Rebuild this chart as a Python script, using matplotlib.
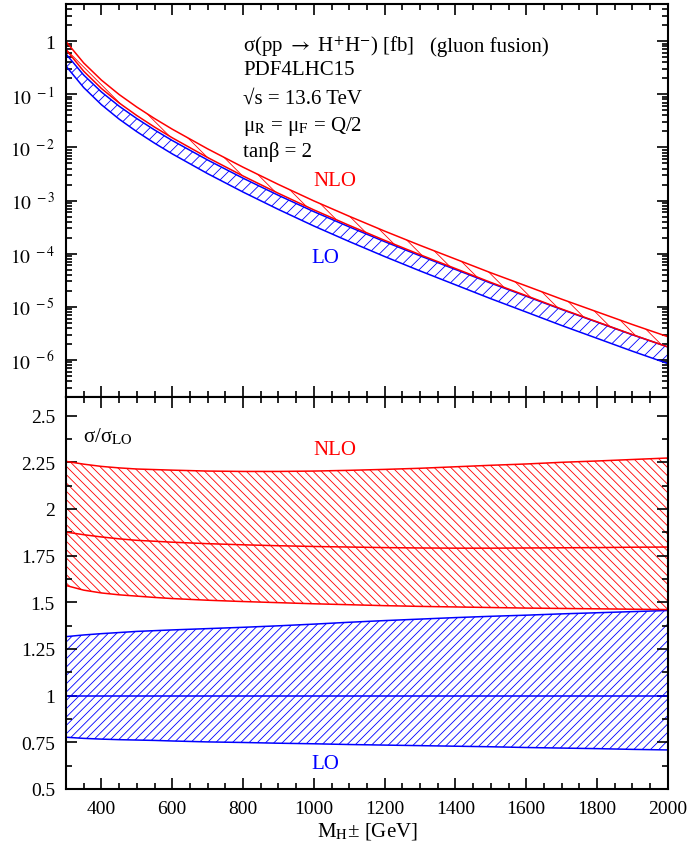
import matplotlib
matplotlib.use('Agg')
import matplotlib.pyplot as plt
import matplotlib.ticker as mticker
import numpy as np

plt.rcParams['font.family'] = ['Liberation Serif', 'DejaVu Serif']
plt.rcParams['mathtext.fontset'] = 'stix'
plt.rcParams['hatch.linewidth'] = 0.6

# charged Higgs mass [GeV]
mass = [300, 350, 400, 450, 500, 550, 600, 700, 800, 900, 1000,
        1100, 1200, 1300, 1400, 1500, 1600, 1700, 1800, 1900, 2000]

# LO central cross section [fb]
sigma_lo = [0.437, 0.174, 0.0832, 0.0447, 0.0260, 0.01585, 0.0100, 0.00427, 0.00193, 9.12e-4, 4.47e-4,
            2.29e-4, 1.20e-4, 6.46e-5, 3.55e-5, 1.95e-5, 1.10e-5, 6.17e-6, 3.55e-6, 2.04e-6, 1.20e-6]

# ratios sigma / sigma_LO
lo_low = [0.777, 0.771, 0.767, 0.764, 0.762, 0.760, 0.757, 0.752, 0.749, 0.745, 0.742,
          0.738, 0.735, 0.732, 0.729, 0.726, 0.722, 0.719, 0.716, 0.712, 0.709]
lo_high = [1.316, 1.325, 1.332, 1.338, 1.344, 1.348, 1.352, 1.359, 1.366, 1.374, 1.383,
           1.393, 1.402, 1.410, 1.418, 1.425, 1.431, 1.438, 1.444, 1.450, 1.456]
nlo_low = [1.590, 1.565, 1.550, 1.540, 1.533, 1.526, 1.520, 1.511, 1.504, 1.498, 1.492,
           1.487, 1.482, 1.478, 1.475, 1.472, 1.469, 1.467, 1.465, 1.463, 1.461]
nlo_mid = [1.876, 1.862, 1.850, 1.840, 1.832, 1.827, 1.822, 1.814, 1.808, 1.803, 1.799,
           1.796, 1.793, 1.791, 1.790, 1.790, 1.791, 1.792, 1.793, 1.795, 1.796]
nlo_high = [2.255, 2.240, 2.228, 2.220, 2.214, 2.211, 2.208, 2.203, 2.201, 2.201, 2.203,
            2.207, 2.212, 2.218, 2.226, 2.234, 2.241, 2.250, 2.257, 2.265, 2.273]

RED = '#ff0000'
BLUE = '#0000ff'

m = np.array(mass)
s = np.array(sigma_lo)

fig = plt.figure(figsize=(6.95, 8.54), dpi=100)
ax1 = fig.add_axes([0.095, 0.534, 0.866, 0.460])
ax2 = fig.add_axes([0.095, 0.075, 0.866, 0.459])


def band(ax, lo, hi, color, hatch):
    ax.fill_between(m, lo, hi, facecolor='none', edgecolor=color, hatch=hatch, linewidth=0)
    ax.plot(m, lo, color=color, lw=1.1)
    ax.plot(m, hi, color=color, lw=1.1)


# top: cross sections
band(ax1, s * np.array(lo_low), s * np.array(lo_high), BLUE, '///')
band(ax1, s * np.array(nlo_low), s * np.array(nlo_high), RED, '\\\\')
ax1.set_yscale('log')
ax1.set_ylim(2e-7, 5)


def logfmt(v, pos):
    e = int(round(np.log10(v)))
    if e == 0:
        return '1'
    return r'$10^{\ %d}$' % e


ax1.yaxis.set_major_locator(mticker.FixedLocator([10.0 ** k for k in range(-6, 1)]))
ax1.yaxis.set_major_formatter(mticker.FuncFormatter(logfmt))
ax1.yaxis.set_minor_locator(mticker.FixedLocator(
    [j * 10.0 ** k for k in range(-7, 1) for j in range(2, 10) if 2e-7 <= j * 10.0 ** k <= 5]))
ax1.yaxis.set_minor_formatter(mticker.NullFormatter())

tx = 0.294
ax1.text(tx, 0.893, r'σ(pp $\rightarrow$ H$^{+}$H$^{-}$) [fb]', transform=ax1.transAxes, fontsize=15, va='center')
ax1.text(0.605, 0.893, '(gluon fusion)', transform=ax1.transAxes, fontsize=15, va='center')
ax1.text(tx, 0.834, 'PDF4LHC15', transform=ax1.transAxes, fontsize=15, va='center')
ax1.text(tx, 0.761, '√s = 13.6 TeV', transform=ax1.transAxes, fontsize=15, va='center')
ax1.text(tx, 0.690, r'μ$_{\rm R}$ = μ$_{\rm F}$ = Q/2', transform=ax1.transAxes, fontsize=15, va='center')
ax1.text(tx, 0.626, 'tanβ = 2', transform=ax1.transAxes, fontsize=15, va='center')
ax1.text(0.447, 0.552, 'NLO', color=RED, transform=ax1.transAxes, fontsize=15, ha='center', va='center')
ax1.text(0.430, 0.356, 'LO', color=BLUE, transform=ax1.transAxes, fontsize=15, ha='center', va='center')

# bottom: ratio to LO
band(ax2, np.array(lo_low), np.array(lo_high), BLUE, '////')
ax2.plot(m, np.ones_like(s), color=BLUE, lw=1.1)
band(ax2, np.array(nlo_low), np.array(nlo_high), RED, '\\\\\\\\')
ax2.plot(m, nlo_mid, color=RED, lw=1.1)
ax2.set_ylim(0.5, 2.6)
ax2.yaxis.set_major_locator(mticker.FixedLocator([0.5, 0.75, 1, 1.25, 1.5, 1.75, 2, 2.25, 2.5]))
ax2.yaxis.set_major_formatter(mticker.FixedFormatter(['0.5', '0.75', '1', '1.25', '1.5', '1.75', '2', '2.25', '2.5']))
ax2.yaxis.set_minor_locator(mticker.MultipleLocator(0.125))
ax2.text(0.028, 0.90, r'σ/σ$_{\rm LO}$', transform=ax2.transAxes, fontsize=15, va='center')
ax2.text(0.447, 0.867, 'NLO', color=RED, transform=ax2.transAxes, fontsize=15, ha='center', va='center')
ax2.text(0.430, 0.066, 'LO', color=BLUE, transform=ax2.transAxes, fontsize=15, ha='center', va='center')
ax2.set_xlabel(r'M$_{\rm H}$± [GeV]', fontsize=15, labelpad=2)

for ax in (ax1, ax2):
    ax.set_xlim(300, 2000)
    ax.xaxis.set_major_locator(mticker.MultipleLocator(200))
    ax.xaxis.set_minor_locator(mticker.MultipleLocator(50))
    ax.tick_params(which='both', direction='in', top=True, right=True, width=1.2, labelsize=14, colors='black')
    ax.tick_params(which='major', length=8, pad=8)
    ax.tick_params(which='minor', length=4)
    for sp in ax.spines.values():
        sp.set_linewidth(1.5)
ax1.tick_params(labelbottom=False)

fig.savefig('out.png', dpi=100)
